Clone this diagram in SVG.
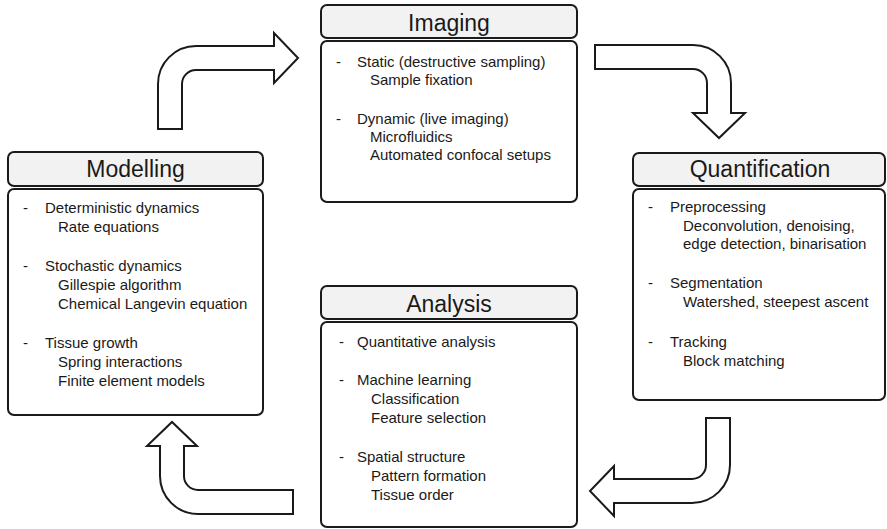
<svg xmlns="http://www.w3.org/2000/svg" width="887" height="529" viewBox="0 0 887 529">
<style>
.hd{fill:#f2f2f2;stroke:#1a1a1a;stroke-width:2}
.bd{fill:#ffffff;stroke:#1a1a1a;stroke-width:2}
.ttl{font-family:"Liberation Sans",Arial,sans-serif;font-size:23px;fill:#1a1a1a;text-anchor:middle}
.tx{font-family:"Liberation Sans",Arial,sans-serif;font-size:15px;fill:#1a1a1a}
.arr{fill:#ffffff;stroke:#1a1a1a;stroke-width:2;stroke-linejoin:miter}
</style>
<rect width="887" height="529" fill="#ffffff"/>
<g id="connectors">
<path class="arr" d="M158,129 L158,84 A38,38 0 0 1 196,46 L274,46 L274,33 L298,58 L274,83 L274,70 L196,70 A14,14 0 0 0 182,84 L182,129 Z"/>
<path class="arr" d="M595,45 L693,45 A38,38 0 0 1 731,83 L731,113 L745,113 L719,138 L693,113 L707,113 L707,83 A14,14 0 0 0 693,69 L595,69 Z"/>
<path class="arr" d="M706,418 L730,418 L730,465 A38,38 0 0 1 692,503 L614,503 L614,516 L590,491 L614,466 L614,479 L692,479 A14,14 0 0 0 706,465 Z"/>
<path class="arr" d="M293,490 L198,490 A14,14 0 0 1 184,476 L184,446 L197,446 L172,422 L147,446 L160,446 L160,476 A38,38 0 0 0 198,514 L293,514 Z"/>
</g>
<g id="imaging">
<rect class="hd" x="321" y="5" width="256" height="33" rx="6"/>
<rect class="bd" x="321" y="41" width="256" height="161" rx="6"/>
<text class="ttl" x="449" y="30.5">Imaging</text>
<text class="tx" x="336" y="67">-</text>
<text class="tx" x="357" y="67">Static (destructive sampling)</text>
<text class="tx" x="370" y="85">Sample fixation</text>
<text class="tx" x="336" y="124">-</text>
<text class="tx" x="357" y="124">Dynamic (live imaging)</text>
<text class="tx" x="370" y="142">Microfluidics</text>
<text class="tx" x="370" y="160">Automated confocal setups</text>
</g>
<g id="modelling">
<rect class="hd" x="8" y="152" width="255" height="34" rx="6"/>
<rect class="bd" x="8" y="189" width="255" height="226" rx="6"/>
<text class="ttl" x="135.5" y="177">Modelling</text>
<text class="tx" x="23" y="213">-</text>
<text class="tx" x="45" y="213">Deterministic dynamics</text>
<text class="tx" x="58" y="232">Rate equations</text>
<text class="tx" x="23" y="271">-</text>
<text class="tx" x="45" y="271">Stochastic dynamics</text>
<text class="tx" x="58" y="290">Gillespie algorithm</text>
<text class="tx" x="58" y="309">Chemical Langevin equation</text>
<text class="tx" x="23" y="348">-</text>
<text class="tx" x="45" y="348">Tissue growth</text>
<text class="tx" x="58" y="367">Spring interactions</text>
<text class="tx" x="58" y="386">Finite element models</text>
</g>
<g id="quantification">
<rect class="hd" x="633" y="153" width="252" height="33" rx="6"/>
<rect class="bd" x="633" y="189" width="252" height="211" rx="6"/>
<text class="ttl" x="760" y="177">Quantification</text>
<text class="tx" x="648" y="212">-</text>
<text class="tx" x="670" y="212">Preprocessing</text>
<text class="tx" x="683" y="231">Deconvolution, denoising,</text>
<text class="tx" x="683" y="249">edge detection, binarisation</text>
<text class="tx" x="648" y="288">-</text>
<text class="tx" x="670" y="288">Segmentation</text>
<text class="tx" x="683" y="307">Watershed, steepest ascent</text>
<text class="tx" x="648" y="347">-</text>
<text class="tx" x="670" y="347">Tracking</text>
<text class="tx" x="683" y="366">Block matching</text>
</g>
<g id="analysis">
<rect class="hd" x="321" y="286" width="256" height="33" rx="6"/>
<rect class="bd" x="321" y="322" width="256" height="205" rx="6"/>
<text class="ttl" x="449" y="312">Analysis</text>
<text class="tx" x="339" y="347">-</text>
<text class="tx" x="357" y="347">Quantitative analysis</text>
<text class="tx" x="339" y="385">-</text>
<text class="tx" x="357" y="385">Machine learning</text>
<text class="tx" x="371" y="404">Classification</text>
<text class="tx" x="371" y="423">Feature selection</text>
<text class="tx" x="339" y="462">-</text>
<text class="tx" x="357" y="462">Spatial structure</text>
<text class="tx" x="371" y="481">Pattern formation</text>
<text class="tx" x="371" y="500">Tissue order</text>
</g>
</svg>
